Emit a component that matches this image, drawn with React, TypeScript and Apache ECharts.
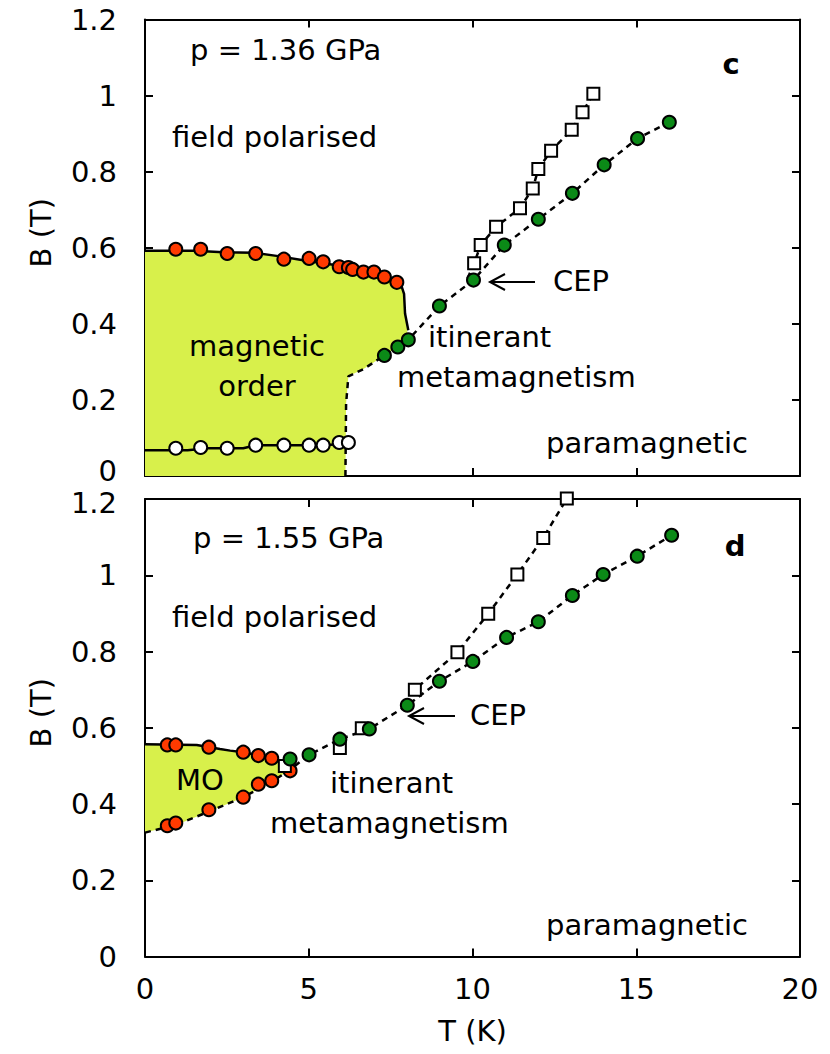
import React, { useEffect, useRef } from "react";
import * as echarts from "echarts";

const FONT = "DejaVu Sans";
const FS = 29;

// x ticks / y ticks
const xTickValues = [0, 5, 10, 15, 20];
const yTickValues = [0, 0.2, 0.4, 0.6, 0.8, 1.0, 1.2];

// ---------- panel c (p = 1.36 GPa) ----------
const cRedT = [0.94, 1.70, 2.51, 3.38, 4.24, 5.01, 5.44, 5.93, 6.21, 6.34, 6.67, 6.99, 7.31, 7.69];
const cRedB = [0.596, 0.596, 0.585, 0.585, 0.570, 0.572, 0.563, 0.550, 0.548, 0.543, 0.536, 0.536, 0.523, 0.509];

const cWhiteT = [0.94, 1.70, 2.51, 3.38, 4.24, 5.01, 5.44, 5.93, 6.21];
const cWhiteB = [0.073, 0.075, 0.073, 0.081, 0.081, 0.081, 0.081, 0.088, 0.088];

const cGreenT = [7.31, 7.72, 8.04, 8.99, 10.03, 10.97, 12.01, 13.05, 14.02, 15.04, 16.01];
const cGreenB = [0.317, 0.339, 0.358, 0.447, 0.515, 0.607, 0.675, 0.743, 0.818, 0.887, 0.930];

const cSquareT = [10.05, 10.25, 10.72, 11.45, 11.84, 12.01, 12.40, 13.03, 13.36, 13.69];
const cSquareB = [0.559, 0.607, 0.655, 0.704, 0.756, 0.807, 0.855, 0.910, 0.956, 1.005];

const cUpperLineT = [0, 1.5, 2.4, 3.31, 4.07, 4.83, 5.85, 6.67, 7.58, 7.84, 7.91, 7.94, 8.04];
const cUpperLineB = [0.592, 0.592, 0.588, 0.587, 0.578, 0.567, 0.554, 0.536, 0.515, 0.497, 0.479, 0.427, 0.383];

const cLowerLineT = [0, 1.3, 1.9, 3.0, 3.38, 5.5, 6.21];
const cLowerLineB = [0.068, 0.068, 0.073, 0.073, 0.081, 0.081, 0.086];

const cDashT = [6.12, 6.14, 6.21, 6.67, 7.31, 7.72, 8.04, 8.99, 10.03, 10.97, 12.01, 13.05, 14.02, 15.04, 16.01];
const cDashB = [0.0, 0.19, 0.262, 0.281, 0.317, 0.339, 0.358, 0.447, 0.515, 0.607, 0.675, 0.743, 0.818, 0.887, 0.930];

const cSqDashT = [9.85, 10.05, 10.25, 10.72, 11.45, 11.84, 12.01, 12.40, 13.03, 13.36, 13.69];
const cSqDashB = [0.52, 0.559, 0.607, 0.655, 0.704, 0.756, 0.807, 0.855, 0.910, 0.956, 1.005];

const cFillT = [0, 0, 1.5, 2.4, 3.31, 4.07, 4.83, 5.85, 6.67, 7.58, 7.84, 7.91, 7.94, 8.04, 7.72, 7.31, 6.67, 6.21, 6.14, 6.12];
const cFillB = [0, 0.592, 0.592, 0.588, 0.587, 0.578, 0.567, 0.554, 0.536, 0.515, 0.497, 0.479, 0.427, 0.358, 0.339, 0.317, 0.281, 0.262, 0.19, 0];

// ---------- panel d (p = 1.55 GPa) ----------
const dRedUpT = [0.68, 0.94, 1.95, 3.00, 3.46, 3.87];
const dRedUpB = [0.555, 0.555, 0.549, 0.536, 0.527, 0.520];

const dRedLoT = [0.68, 0.94, 1.95, 3.00, 3.46, 3.87, 4.43];
const dRedLoB = [0.343, 0.350, 0.385, 0.418, 0.452, 0.461, 0.487];

const dGreenT = [4.43, 5.01, 5.95, 6.85, 8.01, 8.99, 10.01, 11.04, 12.01, 13.05, 13.99, 15.03, 16.08];
const dGreenB = [0.518, 0.529, 0.570, 0.597, 0.659, 0.722, 0.774, 0.837, 0.878, 0.947, 1.002, 1.050, 1.105];

const dSquareT = [4.27, 5.95, 6.62, 8.24, 9.54, 10.48, 11.37, 12.16, 12.88];
const dSquareB = [0.500, 0.547, 0.599, 0.700, 0.798, 0.899, 1.002, 1.098, 1.201];

const dUpperLineT = [0, 1.58, 2.29, 2.6, 3.0, 3.87, 4.33];
const dUpperLineB = [0.557, 0.555, 0.544, 0.540, 0.536, 0.520, 0.509];

const dDashT = [0, 0.94, 1.95, 3.0, 3.87, 4.43, 5.01, 5.95, 6.85, 8.01, 8.99, 10.01, 11.04, 12.01, 13.05, 13.99, 15.03, 16.08];
const dDashB = [0.325, 0.345, 0.38, 0.418, 0.458, 0.49, 0.529, 0.570, 0.597, 0.659, 0.722, 0.774, 0.837, 0.878, 0.947, 1.002, 1.050, 1.105];

const dSqDashT = [8.01, 8.24, 9.54, 10.48, 11.37, 12.16, 12.88, 12.93];
const dSqDashB = [0.659, 0.700, 0.798, 0.899, 1.002, 1.098, 1.201, 1.2];

const dFillT = [0, 1.58, 2.29, 2.6, 3.0, 3.87, 4.33, 4.5, 3.87, 3.0, 1.95, 0.94, 0];
const dFillB = [0.557, 0.555, 0.544, 0.540, 0.536, 0.520, 0.509, 0.495, 0.458, 0.418, 0.38, 0.345, 0.325];

const zip = (a: number[], b: number[]) => a.map((v, i) => [v, b[i]]);

const FILL = "#d8f04b";
const RED = "#ff3a00";
const GREEN = "#0b8a17";

function makeFill(xi: number, t: number[], b: number[]) {
  return {
    type: "custom",
    xAxisIndex: xi,
    yAxisIndex: xi,
    silent: true,
    data: [[0, 0]],
    renderItem: (_p: any, api: any) => ({
      type: "polygon",
      shape: { points: t.map((v, i) => api.coord([v, b[i]])) },
      style: { fill: FILL, stroke: "none" },
    }),
    z: 1,
  };
}

function makeLine(xi: number, t: number[], b: number[], dashed: boolean) {
  return {
    type: "line",
    xAxisIndex: xi,
    yAxisIndex: xi,
    data: zip(t, b),
    symbol: "none",
    silent: true,
    lineStyle: { color: "#000", width: 2.5, type: dashed ? [6, 5] : "solid" },
    z: 2,
  };
}

function makeScatter(xi: number, t: number[], b: number[], color: string, square = false) {
  return {
    type: "scatter",
    xAxisIndex: xi,
    yAxisIndex: xi,
    data: zip(t, b),
    symbol: square ? "rect" : "circle",
    symbolSize: square ? 12 : 13,
    clip: false,
    itemStyle: { color, borderColor: "#000", borderWidth: 2, opacity: 1 },
    z: 3,
  };
}

function xAxisDef(grid: number, position: string, labels: boolean) {
  return {
    type: "value",
    gridIndex: grid,
    position,
    min: 0,
    max: 20,
    interval: 5,
    axisLine: { onZero: false, lineStyle: { color: "#000", width: 2 } },
    axisTick: { inside: true, length: 8, lineStyle: { color: "#000", width: 2 } },
    splitLine: { show: false },
    axisLabel: {
      show: labels,
      fontSize: FS,
      fontFamily: FONT,
      color: "#000",
      margin: 20,
      lineHeight: 24,
      customValues: xTickValues,
    },
    name: labels ? "T (K)" : "",
    nameLocation: "middle",
    nameGap: 62,
    nameTextStyle: { fontSize: FS, fontFamily: FONT, color: "#000", lineHeight: 24 },
  };
}

const richBase = { fontSize: FS, fontFamily: FONT, color: "#000", lineHeight: 20 };

function yAxisDef(grid: number, position: string, labels: boolean) {
  return {
    type: "value",
    gridIndex: grid,
    position,
    min: 0,
    max: 1.2,
    interval: 0.2,
    axisLine: { onZero: false, lineStyle: { color: "#000", width: 2 } },
    axisTick: { inside: true, length: 8, lineStyle: { color: "#000", width: 2 } },
    splitLine: { show: false },
    axisLabel: {
      show: labels,
      fontSize: FS,
      fontFamily: FONT,
      color: "#000",
      margin: 28,
      lineHeight: 20,
      customValues: yTickValues,
      formatter: (v: number) => {
        const s = String(Math.round(v * 10) / 10);
        if (grid === 0 && v === 0) return `{lo|${s}}`;
        if (grid === 1 && Math.abs(v - 1.2) < 1e-6) return `{hi|${s}}`;
        return `{n|${s}}`;
      },
      rich: {
        n: { ...richBase },
        lo: { ...richBase, padding: [0, 0, 10, 0] },
        hi: { ...richBase, padding: [8, 0, 0, 0] },
      },
    },
    name: labels ? "B (T)" : "",
    nameLocation: "middle",
    nameRotate: 90,
    nameGap: 92,
    nameTextStyle: { fontSize: FS, fontFamily: FONT, color: "#000", lineHeight: 24, padding: [0, 0, 0, 30] },
  };
}

function txt(text: string, x: number, y: number, align = "left", bold = false) {
  return {
    type: "text",
    x,
    y,
    silent: true,
    style: {
      text,
      fill: "#000",
      font: `${bold ? "bold " : ""}${FS}px "${FONT}"`,
      textAlign: align,
      textVerticalAlign: "middle",
    },
    z: 10,
  };
}

function arrow(x1: number, x2: number, y: number) {
  return [
    { type: "line", shape: { x1, y1: y, x2, y2: y }, style: { stroke: "#000", lineWidth: 2 }, z: 10 },
    {
      type: "polyline",
      shape: { points: [[x2 + 15, y - 8], [x2, y], [x2 + 15, y + 8]] },
      style: { stroke: "#000", lineWidth: 2, fill: "none" },
      z: 10,
    },
  ];
}

export default function App() {
  const ref = useRef<HTMLDivElement>(null);
  useEffect(() => {
    document.body.style.margin = "0";
    const chart = echarts.init(ref.current!, undefined, { renderer: "svg" });
    chart.setOption({
      animation: false,
      backgroundColor: "#fff",
      grid: [
        { left: 145, top: 19.5, width: 655, height: 456.5 },
        { left: 145, top: 499, width: 655, height: 457.5 },
      ],
      xAxis: [
        xAxisDef(0, "bottom", false),
        xAxisDef(0, "top", false),
        xAxisDef(1, "bottom", true),
        xAxisDef(1, "top", false),
      ],
      yAxis: [
        yAxisDef(0, "left", true),
        yAxisDef(0, "right", false),
        yAxisDef(1, "left", true),
        yAxisDef(1, "right", false),
      ],
      series: [
        makeFill(0, cFillT, cFillB),
        { ...makeFill(2, dFillT, dFillB), yAxisIndex: 2 },
        makeLine(0, cUpperLineT, cUpperLineB, false),
        makeLine(0, cLowerLineT, cLowerLineB, false),
        makeLine(0, cDashT, cDashB, true),
        makeLine(0, cSqDashT, cSqDashB, true),
        makeLine(2, dUpperLineT, dUpperLineB, false),
        makeLine(2, dDashT, dDashB, true),
        makeLine(2, dSqDashT, dSqDashB, true),
        makeScatter(0, cRedT, cRedB, RED),
        makeScatter(0, cWhiteT, cWhiteB, "#fff"),
        makeScatter(0, cSquareT, cSquareB, "#fff", true),
        makeScatter(0, cGreenT, cGreenB, GREEN),
        makeScatter(2, dRedUpT, dRedUpB, RED),
        makeScatter(2, dRedLoT, dRedLoB, RED),
        makeScatter(2, dSquareT, dSquareB, "#fff", true),
        makeScatter(2, dGreenT, dGreenB, GREEN),
      ],
      graphic: [
        txt("p = 1.36 GPa", 190, 50),
        txt("c", 731, 64, "center", true),
        txt("field polarised", 172, 137),
        txt("magnetic", 257, 346, "center"),
        txt("order", 257, 386, "center"),
        txt("itinerant", 428, 337),
        txt("metamagnetism", 397, 377),
        txt("CEP", 553, 281),
        ...arrow(535, 490, 282),
        txt("paramagnetic", 546, 443),
        txt("p = 1.55 GPa", 193, 538),
        txt("d", 735, 546, "center", true),
        txt("field polarised", 172, 617),
        txt("MO", 200, 780, "center"),
        txt("itinerant", 330, 783),
        txt("metamagnetism", 270, 823),
        txt("CEP", 470, 715),
        ...arrow(455, 409, 716),
        txt("paramagnetic", 546, 925),
      ],
    });
    return () => chart.dispose();
  }, []);
  return <div ref={ref} style={{ width: 830, height: 1054 }} />;
}
